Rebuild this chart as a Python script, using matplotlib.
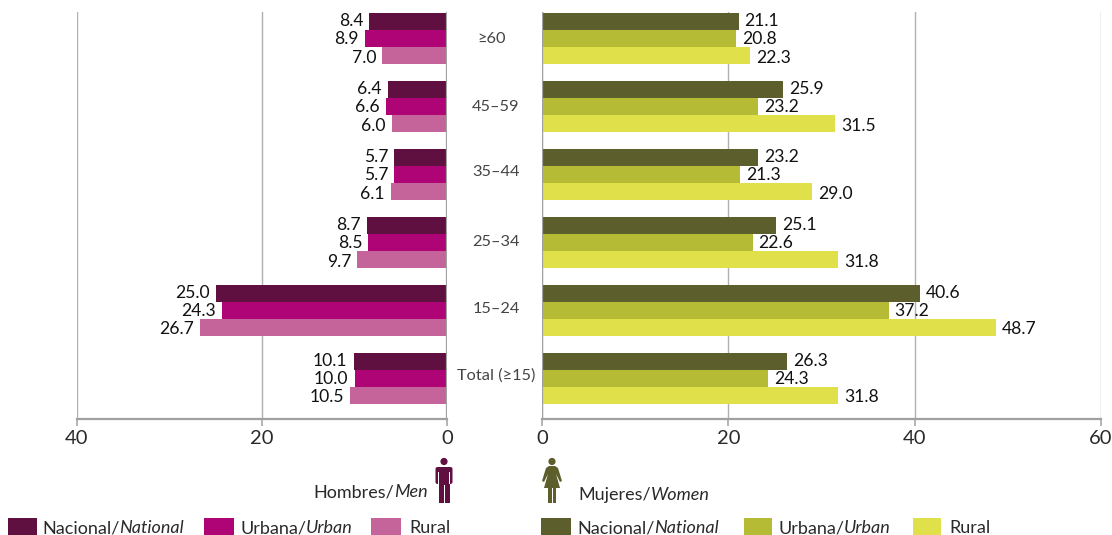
import matplotlib
matplotlib.use("Agg")
import matplotlib.pyplot as plt
from matplotlib.patches import Rectangle, Circle, Polygon, FancyBboxPatch

W, H = 1112, 535

groups = ["≥60", "45–59", "35–44", "25–34", "15–24", "Total (≥15)"]

men_nacional = [8.4, 6.4, 5.7, 8.7, 25.0, 10.1]
men_urbana = [8.9, 6.6, 5.7, 8.5, 24.3, 10.0]
men_rural = [7.0, 6.0, 6.1, 9.7, 26.7, 10.5]

women_nacional = [21.1, 25.9, 23.2, 25.1, 40.6, 26.3]
women_urbana = [20.8, 23.2, 21.3, 22.6, 37.2, 24.3]
women_rural = [22.3, 31.5, 29.0, 31.8, 48.7, 31.8]

men_colors = ["#5f0f40", "#ae0475", "#c5649a"]
women_colors = ["#5c5f2b", "#b5bb35", "#e0e04a"]

plt.rcParams["font.family"] = ["Lato", "DejaVu Sans"]
txt = "#2a2a2a"
grey = "#a0a0a0"


def axes_px(fig, x0, x1, y0, y1):
    return fig.add_axes([x0 / W, 1 - y1 / H, (x1 - x0) / W, (y1 - y0) / H])


fig = plt.figure(figsize=(W / 100, H / 100), dpi=100)
ax_l = axes_px(fig, 77, 447, 12, 419)
ax_r = axes_px(fig, 542, 1101, 12, 419)

ypos = list(range(len(groups)))
h = 0.25

for ax, series, colors, side in [
    (ax_l, [men_nacional, men_urbana, men_rural], men_colors, -1),
    (ax_r, [women_nacional, women_urbana, women_rural], women_colors, 1),
]:
    for i, (vals, c) in enumerate(zip(series, colors)):
        yy = [y + (i - 1) * h for y in ypos]
        ax.barh(yy, vals, height=h, color=c, zorder=3)
        for y, v in zip(yy, vals):
            ax.annotate(f"{v:.1f}", (v, y), xytext=(side * 6, -(i - 1) * 1.2 - 1), textcoords="offset pixels",
                        ha="left" if side > 0 else "right", va="center", fontsize=12.6, color="#111111", zorder=4)
    ax.set_ylim(5.6, -0.39)
    ax.spines[["top", "right", "left"]].set_visible(False)
    ax.spines["bottom"].set_color(grey)
    ax.spines["bottom"].set_linewidth(1.6)
    ax.set_yticks([])
    ax.grid(axis="x", color="#b0b0b0", lw=1.0, zorder=1)
    ax.tick_params(axis="x", length=5, width=1.1, color=grey, labelsize=14.5, labelcolor=txt, pad=3)
    ax.patch.set_visible(False)

ax_l.set_xlim(40, 0)
ax_l.set_xticks([40, 20, 0])
ax_r.set_xlim(0, 60)
ax_r.set_xticks([0, 20, 40, 60])

# thicker baselines at zero
ax_l.axvline(0, color=grey, lw=1.6, zorder=5)
ax_r.axvline(0, color=grey, lw=1.6, zorder=5)

# overlay in pixel coordinates for the group names, legend and icons
ov = fig.add_axes([0, 0, 1, 1], zorder=10)
ov.set_xlim(0, W)
ov.set_ylim(H, 0)
ov.axis("off")

group_x = [492, 496, 496, 496, 496, 496]
group_y = [39, 107, 172, 242, 309, 376]
for g, x, y in zip(groups, group_x, group_y):
    ov.text(x, y, g, ha="center", va="center", fontsize=11.8, color="#444444")


def mixed(x, y, plain, ital):
    t = ov.text(x, y, plain, ha="left", va="center", fontsize=13, color=txt)
    if ital:
        ov.annotate(ital, xy=(1, 0), xycoords=t, va="bottom", ha="left", fontsize=13,
                    style="italic", color=txt)


legend_l = [(8, 29, 42, "Nacional/", "National"), (204, 30, 240, "Urbana/", "Urban"),
            (371, 30, 409, "Rural", "")]
legend_r = [(541, 30, 577, "Nacional/", "National"), (744, 28, 778, "Urbana/", "Urban"),
            (913, 28, 949, "Rural", "")]
for items, colors in [(legend_l, men_colors), (legend_r, women_colors)]:
    for (x, w, tx, plain, ital), c in zip(items, colors):
        ov.add_patch(Rectangle((x, 518), w, 17, color=c, lw=0))
        mixed(tx, 528, plain, ital)

mixed(313, 492, "Hombres/", "Men")
mixed(578, 495, "Mujeres/", "Women")

# man icon
mc = men_colors[0]
ov.add_patch(Circle((444, 461.5), 3.6, color=mc, lw=0))
ov.add_patch(FancyBboxPatch((435.5, 467), 17, 17, boxstyle="round,pad=0,rounding_size=2", color=mc, lw=0))
ov.add_patch(Rectangle((438.5, 467), 11, 36, color=mc, lw=0))
ov.add_patch(Rectangle((443.5, 485), 1.0, 18, color="white", lw=0))
ov.add_patch(Rectangle((438.2, 472), 0.7, 12, color="white", lw=0))
ov.add_patch(Rectangle((449.2, 472), 0.7, 12, color="white", lw=0))

# woman icon
wc = women_colors[0]
ov.add_patch(Circle((552, 461.5), 3.6, color=wc, lw=0))
ov.add_patch(Polygon([(549, 466), (555, 466), (558, 468), (562, 481), (560, 482), (556, 474), (560, 488),
                      (544, 488), (548, 474), (544, 482), (542, 481), (546, 468)], color=wc, lw=0))
ov.add_patch(Rectangle((548, 488), 3.5, 15, color=wc, lw=0))
ov.add_patch(Rectangle((552.5, 488), 3.5, 15, color=wc, lw=0))

fig.savefig("out.png", dpi=100)
